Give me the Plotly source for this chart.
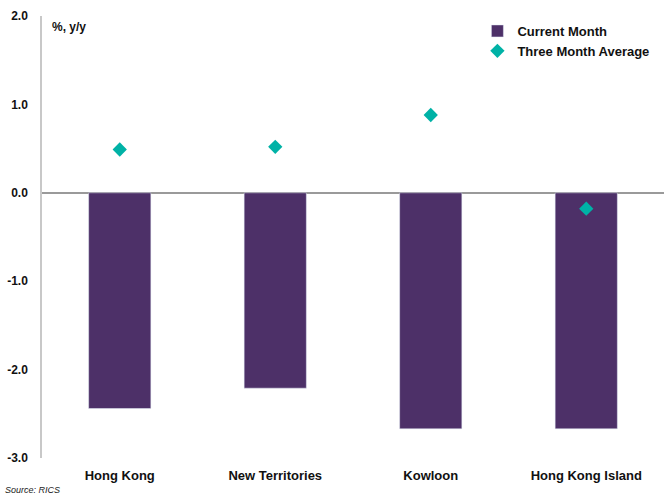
import plotly.graph_objects as go

# Regional price change, % y/y
regions = ["Hong Kong", "New Territories", "Kowloon", "Hong Kong Island"]
current_month = [-2.44, -2.21, -2.67, -2.67]
three_month_avg = [0.49, 0.52, 0.88, -0.18]

y_ticks = [2.0, 1.0, 0.0, -1.0, -2.0, -3.0]
y_labels = ["2.0", "1.0", "0.0", "-1.0", "-2.0", "-3.0"]

BAR = "#4D3068"
TEAL = "#00B2A6"
FONT = "Arial, sans-serif"

fig = go.Figure()
fig.add_trace(go.Bar(
    x=regions, y=current_month, name="Current Month",
    marker=dict(color=BAR), width=0.4,
))
fig.add_trace(go.Scatter(
    x=regions, y=three_month_avg, name="Three Month Average",
    mode="markers", marker=dict(symbol="diamond", size=11, color=TEAL),
))

fig.update_layout(
    width=664, height=498,
    margin=dict(l=42, r=0, t=16, b=40, autoexpand=False),
    paper_bgcolor="white", plot_bgcolor="white",
    font=dict(family=FONT, size=13, color="#111111"),
    showlegend=True,
    legend=dict(
        x=0.70, y=1.0, xanchor="left", yanchor="top",
        font=dict(family=FONT, size=13, color="#111111", weight="bold"),
        bgcolor="rgba(0,0,0,0)", itemwidth=30,
    ),
    xaxis=dict(
        showgrid=False, showline=False, ticks="", ticklabelstandoff=8,
        tickfont=dict(family=FONT, size=13, weight="bold"),
    ),
    yaxis=dict(
        range=[-3.0, 2.0], tickvals=y_ticks, ticktext=y_labels,
        showgrid=False, zeroline=True, zerolinecolor="#9a9a9a", zerolinewidth=1.5,
        showline=True, linecolor="#c8c8c8", linewidth=1.5,
        ticks="", ticklabelstandoff=10,
        tickfont=dict(family=FONT, size=12, weight="bold"),
    ),
)

# corner annotations placed in pixel terms relative to the plot area
pw, ph = 664 - 42, 498 - 16 - 40
fig.add_annotation(
    text="%, y/y", x=(50 - 42) / pw, y=(458 - 27) / ph,
    xref="paper", yref="paper", showarrow=False,
    xanchor="left", yanchor="middle",
    font=dict(family=FONT, size=12, weight="bold", color="#111111"),
)
fig.add_annotation(
    text="<i>Source: RICS</i>", x=(3 - 42) / pw, y=(458 - 490) / ph,
    xref="paper", yref="paper", showarrow=False,
    xanchor="left", yanchor="middle",
    font=dict(family=FONT, size=9, color="#222222"),
)

fig.write_html("out.html")
